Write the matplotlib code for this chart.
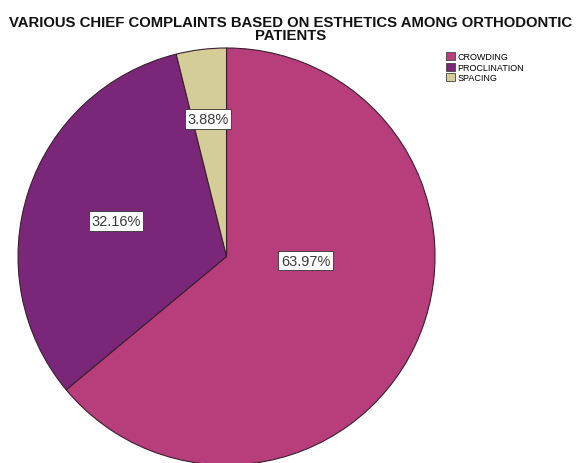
import matplotlib.pyplot as plt
import numpy as np

categories = ['CROWDING', 'PROCLINATION', 'SPACING']
percentages = [63.97, 32.16, 3.88]
colors = ['#b83d7b', '#7a2779', '#d4cd97']
# label anchor points (data coords of pie axes, radius = 1)
label_xy = [(0.38, -0.02), (-0.53, 0.17), (-0.09, 0.66)]

plt.rcParams['font.family'] = ['Liberation Sans', 'DejaVu Sans']

fig = plt.figure(figsize=(5.87, 4.64), dpi=100)
ax = fig.add_axes([0.0307, -0.0043, 0.7104, 0.8987])
wedges, _ = ax.pie(percentages, colors=colors, startangle=90, counterclock=False,
                   wedgeprops=dict(edgecolor='#3a1f30', linewidth=0.8))
ax.set_xlim(-1.0, 1.0)
ax.set_ylim(-1.0, 1.0)
ax.set_aspect('equal')
for w in wedges:
    w.set_clip_on(False)

for p, (x, y) in zip(percentages, label_xy):
    ax.text(x, y, f'{p:.2f}%', ha='center', va='center', fontsize=10.5, color='#3a3a3a',
            bbox=dict(boxstyle='square,pad=0.18', fc='white', ec='#333333', lw=0.6))

fig.text(0.495, 0.937, 'VARIOUS CHIEF COMPLAINTS BASED ON ESTHETICS AMONG ORTHODONTIC\nPATIENTS',
         ha='center', va='center', fontsize=10.7, fontweight='bold', linespacing=0.95,
         color='#111111')

leg = fig.legend(wedges, categories, loc='upper left', bbox_to_anchor=(0.752, 0.895),
                 frameon=False, fontsize=6.5, handlelength=1.0, handleheight=1.0,
                 handletextpad=0.3, labelspacing=0.15, borderpad=0)
for h in leg.legend_handles:
    h.set_edgecolor('#444444')
    h.set_linewidth(0.6)

fig.savefig('out.png', dpi=100)
